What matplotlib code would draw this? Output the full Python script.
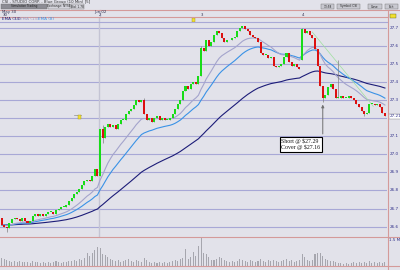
import numpy as np
import pandas as pd
import matplotlib
matplotlib.use("Agg")
import matplotlib.pyplot as plt
from matplotlib.patches import Rectangle
from matplotlib.lines import Line2D

# 10 minute closes, May 30 -> Jun 04
closes = [
    # May 30
    26.61, 26.60, 26.59, 26.62, 26.64, 26.65, 26.64, 26.63, 26.65, 26.63,
    26.62, 26.63, 26.66, 26.67, 26.66, 26.67, 26.66, 26.67, 26.68, 26.68,
    26.67, 26.69, 26.70, 26.71, 26.71, 26.72, 26.74, 26.76, 26.78, 26.79,
    26.81, 26.83, 26.85, 26.86, 26.85, 26.88, 26.92, 26.88,
    # Jun 02
    27.14, 27.09, 27.15, 27.17, 27.15, 27.16, 27.14, 27.17, 27.19, 27.19,
    27.22, 27.24, 27.25, 27.27, 27.30, 27.29, 27.30, 27.22, 27.19, 27.20,
    27.18, 27.20, 27.21, 27.19, 27.20, 27.19, 27.19, 27.20, 27.22, 27.25,
    27.28, 27.30, 27.35, 27.38, 27.36, 27.39, 27.40, 27.39, 27.43,
    # Jun 03
    27.59, 27.57, 27.63, 27.60, 27.62, 27.66, 27.68, 27.67, 27.64, 27.62,
    27.63, 27.63, 27.64, 27.65, 27.68, 27.70, 27.71, 27.69, 27.68, 27.66,
    27.65, 27.64, 27.62, 27.56, 27.55, 27.55, 27.53, 27.54, 27.49, 27.48,
    27.49, 27.50, 27.54, 27.56, 27.51, 27.49, 27.50, 27.48, 27.47,
    # Jun 04
    27.69, 27.67, 27.68, 27.66, 27.64, 27.58, 27.49, 27.38, 27.31, 27.33,
    27.37, 27.39, 27.36, 27.31, 27.31, 27.32, 27.31, 27.31, 27.32, 27.31,
    27.30, 27.28, 27.26, 27.24, 27.22, 27.23, 27.28, 27.28, 27.27, 27.28,
    27.26, 27.23, 27.21,
]
first_open = 26.65
gap_opens = {116: 27.52}
wick_hi = {39: 27.16, 55: 27.31, 77: 27.60, 116: 27.70, 130: 27.52}
wick_lo = {2: 26.57, 39: 27.06, 124: 27.29, 140: 27.21}

# volume in thousands
volumes = [
    430, 370, 320, 260, 210, 290, 240, 260, 210, 190,
    230, 180, 260, 210, 190, 160, 210, 180, 230, 160,
    210, 260, 190, 160, 210, 230, 260, 290, 320, 260,
    370, 320, 430, 690, 530, 690, 850, 1010,
    960, 640, 590, 480, 370, 320, 270, 320, 210, 260,
    320, 370, 260, 210, 320, 260, 210, 420, 320, 210,
    160, 210, 160, 210, 160, 190, 160, 210, 260, 320,
    260, 370, 430, 900, 370, 480, 750, 530, 1070,
    1500, 690, 640, 480, 320, 320, 370, 480, 430, 320,
    260, 210, 260, 210, 260, 370, 320, 260, 210, 320,
    260, 210, 260, 370, 260, 210, 320, 260, 320, 260,
    210, 260, 320, 370, 260, 320, 210, 260, 320,
    640, 480, 320, 260, 320, 640, 690, 690, 530, 370,
    320, 260, 260, 210, 160, 160, 130, 160, 130, 160,
    210, 160, 210, 160, 210, 160, 260, 160, 210, 160,
    210, 160, 210,
]

grid_prices = [26.6, 26.7, 26.8, 26.9, 27.0, 27.1, 27.3, 27.4, 27.5, 27.6, 27.7]
grid_labels = ["26.6", "26.7", "26.8", "26.9", "27.0", "27.1", "27.3", "27.4", "27.5", "27.6", "27.7"]
hidden_grid = [27.2]  # its label sits under the last-price tag
ema_periods = [34, 13, 8]
ema_colors = ["#1c1c78", "#9c9cc4", "#3a92e6"]
line_colors = ["#1c1c78", "#3a92e6", "#a4a4cc"]
week_break = 37.6
short_bar = 124
short_price = 27.29
cover_price = 27.16
trend_x = [120.0, 143.5]
trend_y = [27.675, 27.265]
flags = [(30.0, 27.205), (74.0, 27.745)]

bg = "#e2e2ea"
grid_c = "#a8a8d6"
red_c = "#d49a9a"

n = len(closes)
x = np.arange(n)
c = np.array(closes)
o = np.r_[first_open, c[:-1]]
for k, v in gap_opens.items():
    o[k] = v
hi = np.maximum(o, c)
lo = np.minimum(o, c)
for k, v in wick_hi.items():
    hi[k] = v
for k, v in wick_lo.items():
    lo[k] = v

W, H = 400, 270
fig = plt.figure(figsize=(4, 2.7), dpi=100, facecolor=bg)


def fx(px):
    return px / W


def fy(py):
    return 1 - py / H


ax = fig.add_axes([0, fy(237), fx(387), (237 - 17) / H])
axv = fig.add_axes([0, fy(266), fx(387), (266 - 237) / H])
for a in (ax, axv):
    a.set_facecolor(bg)
    for s in a.spines.values():
        s.set_visible(False)
    a.set_xticks([])
    a.set_yticks([])
    a.set_xlim(-0.62, 148.8)

ax.set_ylim(26.543, 27.7586)
for g in grid_prices + hidden_grid:
    ax.axhline(g, color=grid_c, lw=0.8, zorder=0)
ax.axvline(week_break, color="#c4c4d4", lw=1.0, zorder=0)

# EMAs (smoothing 1/N)
s = pd.Series(c)
for period, col in zip(ema_periods, line_colors):
    ax.plot(x, s.ewm(alpha=1.0 / period, adjust=False).mean(), color=col, lw=0.8, zorder=2)

ax.plot(trend_x, trend_y, color="#9ee09e", lw=0.5, zorder=2)

# candles
up = c >= o
cols = np.where(up, "#18dc18", "#dc1010")
body = np.where(np.abs(c - o) < 0.004, 0.004, c - o)
ax.vlines(x, lo, hi, color="#808080", lw=0.5, zorder=3)
ax.bar(x, body, bottom=o, width=0.78, color=cols, zorder=4, linewidth=0)

# event flags
for fxb, fp in flags:
    ax.plot([fxb - 2, fxb + 0.5], [fp + 0.012, fp + 0.012], color="#909090", lw=0.5, zorder=3)
    ax.add_patch(Rectangle((fxb - 0.4, fp - 0.012), 1.0, 0.022, fc="#f0e030",
                           ec="#a09020", lw=0.3, zorder=5))

# short / cover note
ax.annotate("", xy=(short_bar, short_price), xytext=(short_bar, 27.097),
            arrowprops=dict(arrowstyle="-|>", color="#707070", lw=0.7, mutation_scale=4),
            zorder=6)
ax.text(108.0, 27.087, f"Short @ ${short_price:.2f}\nCover @ ${cover_price:.2f}",
        family=["Liberation Serif", "DejaVu Serif"], fontsize=4.2, va="top", ha="left",
        linespacing=1.1, color="#101010", zorder=7,
        bbox=dict(boxstyle="square,pad=0.3", fc="white", ec="black", lw=0.8))

# right axis labels
tr = ax.get_yaxis_transform()
for g, lab in zip(grid_prices, grid_labels):
    ax.text(1.006, g, lab, transform=tr, fontsize=3, color="#30308a",
            va="center", ha="left", clip_on=False)
ax.text(1.006, c[-1], f"{c[-1]:.2f}", transform=tr, fontsize=3, color="#30308a",
        va="center", ha="left", clip_on=False,
        bbox=dict(boxstyle="square,pad=0.15", fc="white", ec="#808080", lw=0.3))

# legend text
ema_x = [2, 20, 38]
for xi, period, col in zip(ema_x, ema_periods, ema_colors):
    fig.text(fx(xi), fy(19.5), f"EMA ({period})", fontsize=3, color=col, va="center")

# volume
axv.set_ylim(0, 1553)
axv.bar(x, volumes, width=0.4, color="#a6a6ae", linewidth=0)
fig.text(fx(389), fy(240), "1.5 M", fontsize=3, color="#30308a", va="center")

# header
fig.text(fx(2), fy(1.8), "CSI - STUDIO CORP. - Blue Group (10 Min) [5]", fontsize=2.8,
         color="#303030", va="center")
buttons = [(1, 47, "Simulation Trading", "#8c8c94"), (48, 70, "Exchange: NYSE", "#d4d4dc"),
           (71, 84, "Bid: 1.78", "#d4d4dc"), (321, 334, "13:58", "#c8c8d0"),
           (337, 360, "Symbol: CSI", "#c8c8d0"), (368, 382, "Close", "#c8c8d0"),
           (385, 398, "Exit", "#c8c8d0")]
for x0, x1, lab, fc in buttons:
    fig.patches.append(Rectangle((fx(x0), fy(9)), fx(x1 - x0), 5 / H, fc=fc, ec="#707070",
                                 lw=0.3, transform=fig.transFigure))
    fig.text(fx((x0 + x1) / 2), fy(6.5), lab, fontsize=2.1, color="#202020",
             ha="center", va="center")

fig.text(fx(2), fy(12), "May 30", fontsize=2.8, color="#303050", va="center")
fig.text(fx(94), fy(12), "Jun 02", fontsize=2.8, color="#303050", va="center")
for xi, lab in [(3, "30"), (99, "2"), (201, "3"), (302, "4")]:
    fig.text(fx(xi), fy(15), lab, fontsize=2.8, color="#303050", va="center")
fig.lines.append(Line2D([fx(99.5), fx(99.5)], [fy(10), fy(17)], color="#c4c4d4", lw=1.0,
                        transform=fig.transFigure))
fig.patches.append(Rectangle((fx(390), fy(17.5)), fx(6), 3.5 / H, fc="#f0e030", ec="#606020",
                             lw=0.3, transform=fig.transFigure))

# panel borders
for yy, x1 in [(10, 400), (17, 387), (237, 400), (266, 400)]:
    fig.lines.append(Line2D([0, fx(x1)], [fy(yy), fy(yy)], color=red_c, lw=0.8,
                            transform=fig.transFigure))
fig.lines.append(Line2D([fx(387.5), fx(387.5)], [fy(10), 0], color=red_c, lw=0.8,
                        transform=fig.transFigure))
fig.lines.append(Line2D([0, fx(387)], [fy(22), fy(22)], color=grid_c, lw=0.8,
                        transform=fig.transFigure))

fig.savefig("out.png", dpi=100, facecolor=bg)
